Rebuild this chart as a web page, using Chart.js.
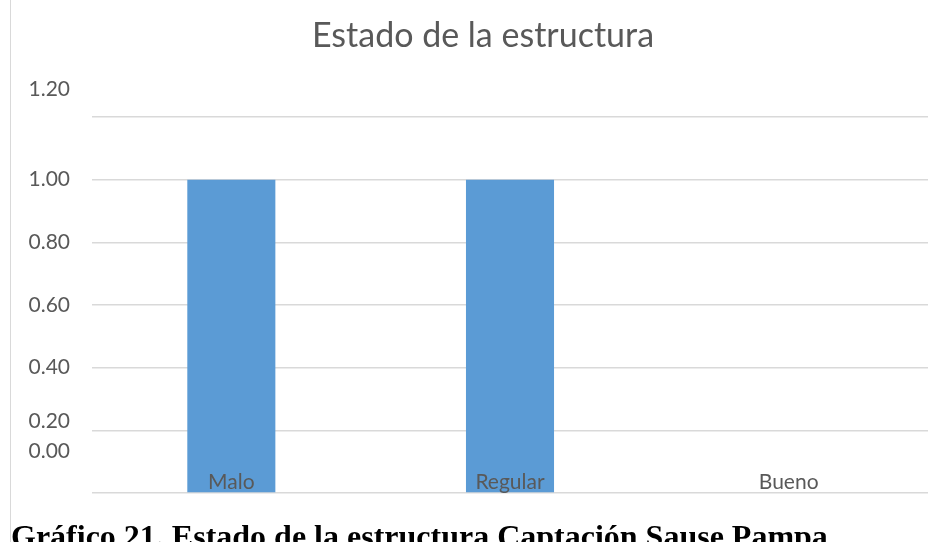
<!DOCTYPE html>
<html lang="es">
<head>
    <meta charset="UTF-8">
    <title>Estado de la estructura</title>
    <style>
        body {
            margin: 0;
            background-color: #fff;
        }
        .page {
            position: relative;
            width: 946px;
            height: 542px;
            overflow: hidden;
        }
        .page::before {
            content: "";
            position: absolute;
            left: 10px;
            top: 0;
            width: 1px;
            height: 542px;
            background-color: #d9d9d9;
        }
        #chart {
            position: absolute;
            left: 0;
            top: 0;
        }
        .caption {
            position: absolute;
            left: 11px;
            top: 520px;
            font-family: "Liberation Serif", "Times New Roman", serif;
            font-weight: bold;
            font-size: 32px;
            line-height: 32px;
            white-space: nowrap;
            color: #000;
        }
    </style>
    <script src="https://cdn.jsdelivr.net/npm/chart.js"></script>
</head>
<body>
    <div class="page">
        <canvas id="chart" width="946" height="542"></canvas>
        <div class="caption">Gráfico 21. Estado de la estructura Captación Sause Pampa</div>
    </div>

    <script>
        const chartTitle = 'Estado de la estructura';
        const categories = ['Malo', 'Regular', 'Bueno'];
        const values = [1, 1, 0];
        const yTicks = [0, 0.2, 0.4, 0.6, 0.8, 1.0, 1.2];
        // the original puts some y labels off their gridlines (pixels, up is negative)
        const yLabelShift = [-42, -9, 0, 0, 0, 0, -28];

        const textColor = '#595959';
        const gridColor = '#d9d9d9';
        const labelFont = '21px Lato';

        const labelsPlugin = {
            id: 'excelLabels',
            afterDatasetsDraw(chart) {
                const ctx = chart.ctx;
                const x = chart.scales.x;
                const y = chart.scales.y;
                ctx.save();
                ctx.fillStyle = textColor;

                // title
                ctx.font = '34px Lato';
                ctx.textAlign = 'center';
                ctx.textBaseline = 'alphabetic';
                ctx.fillText(chartTitle, 483, 47);

                // category names sit inside the plot, just above the axis
                ctx.font = labelFont;
                categories.forEach((name, i) => {
                    ctx.fillText(name, x.getPixelForValue(i), y.bottom - 4);
                });

                // y labels
                ctx.textAlign = 'right';
                ctx.textBaseline = 'middle';
                yTicks.forEach((v, i) => {
                    ctx.fillText(v.toFixed(2), 70, y.getPixelForValue(v) + yLabelShift[i]);
                });
                ctx.restore();
            }
        };

        new Chart(document.getElementById('chart'), {
            type: 'bar',
            data: {
                labels: categories,
                datasets: [{
                    data: values,
                    backgroundColor: '#5b9bd5',
                    borderWidth: 0,
                    categoryPercentage: 0.316,
                    barPercentage: 1
                }]
            },
            options: {
                responsive: false,
                animation: false,
                layout: {
                    padding: { left: 92, right: 18, top: 117, bottom: 41 }
                },
                plugins: {
                    legend: { display: false },
                    title: { display: false },
                    tooltip: { enabled: false }
                },
                scales: {
                    x: {
                        ticks: { display: false },
                        grid: { display: false },
                        border: { display: false }
                    },
                    y: {
                        min: 0,
                        max: 1.2,
                        afterBuildTicks(axis) {
                            axis.ticks = yTicks.map(v => ({ value: v }));
                        },
                        ticks: { display: false },
                        grid: { color: gridColor, lineWidth: 1.5, drawTicks: false },
                        border: { display: false }
                    }
                }
            },
            plugins: [labelsPlugin]
        });
    </script>
</body>
</html>
